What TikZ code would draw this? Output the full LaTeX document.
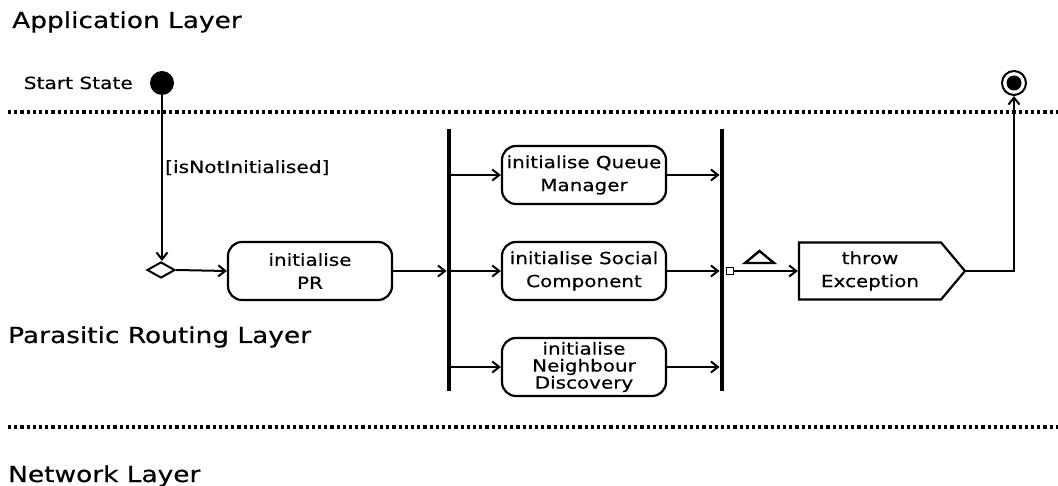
\documentclass[tikz,border=0pt]{standalone}
\usepackage{fontspec}
\setmainfont[FakeStretch=1.2,FakeBold=0.5]{DejaVu Sans}
\usetikzlibrary{arrows.meta,shapes.geometric,shapes.symbols}
\begin{document}
\begin{tikzpicture}[x=1pt,y=-1pt,
  every node/.style={inner sep=0pt},
  flow/.style={line width=2pt,-{Straight Barb[length=7pt,width=11pt,line width=2pt]}},
  lane/.style={line width=3.2pt,dash pattern=on 3.2pt off 3pt},
  layer/.style={anchor=base west,font=\fontsize{22}{26}\selectfont},
  small/.style={font=\fontsize{16.8}{19}\selectfont},
  action/.style={draw,line width=2.2pt,rounded corners=14pt,minimum width=164pt,minimum height=58pt,align=center,font=\fontsize{16.6}{23}\selectfont},
  bar/.style={fill=black,minimum width=4.5pt,minimum height=262pt}
]
\useasboundingbox (0,0) rectangle (1058,486);

% swimlane titles and separators
\node[layer] (app) at (12,28) {Application Layer};
\node[layer] (prl) at (8,343) {Parasitic Routing Layer};
\node[layer] (net) at (8,482) {Network Layer};
\draw[lane] (8,112) -- (1058,112);
\draw[lane] (8,427) -- (1058,427);

% start and final states
\node[small,anchor=base east] (startlbl) at (133,89) {Start State};
\node[circle,fill=black,minimum size=24pt] (start) at (162,83) {};
\node[circle,draw,line width=2pt,minimum size=24pt] (final) at (1014,83) {};
\fill (final) circle (7.5pt);

% decision and actions
\node[diamond,draw,line width=2pt,minimum width=28pt,minimum height=16pt] (dec) at (161,270) {};
\node[action] (pr) at (310,271) {initialise\\PR};
\node[bar] (fork) at (449,260) {};
\node[bar] (join) at (722,260) {};
\node[action] (queue) at (584,175) {initialise Queue\\Manager};
\node[action] (social) at (584,271) {initialise Social\\Component};
\node[action,font=\fontsize{16.6}{17}\selectfont] (neigh) at (584,367) {initialise\\Neighbour\\Discovery};
\node[draw,fill=white,line width=1.6pt,minimum size=7pt] (pin) at (730,271) {};
\node[signal,signal to=east,signal pointer angle=100,draw,line width=2.2pt,minimum width=166pt,minimum height=57pt,align=center,font=\fontsize{16.6}{23}\selectfont] (throw) at (870,271) {throw\\Exception};
\draw[line width=2.4pt,line join=miter] (745,263) -- (759.5,251) -- (774,263) -- cycle;

% connectors
\draw[flow] (start) -- (start |- dec.north);
\node[small,anchor=base west] (guard) at (165,173) {[isNotInitialised]};
\draw[flow] (dec.east) -- (pr.west);
\draw[flow] (pr.east) -- (fork.west |- pr.east);
\draw[flow] (fork.east |- queue.west) -- (queue.west);
\draw[flow] (fork.east |- social.west) -- (social.west);
\draw[flow] (fork.east |- neigh.west) -- (neigh.west);
\draw[flow] (queue.east) -- (join.west |- queue.east);
\draw[flow] (social.east) -- (join.west |- social.east);
\draw[flow] (neigh.east) -- (join.west |- neigh.east);
\draw[flow] (pin.east) -- (throw.west);
\draw[flow] (throw.east) -| (final.south);
\end{tikzpicture}
\end{document}
